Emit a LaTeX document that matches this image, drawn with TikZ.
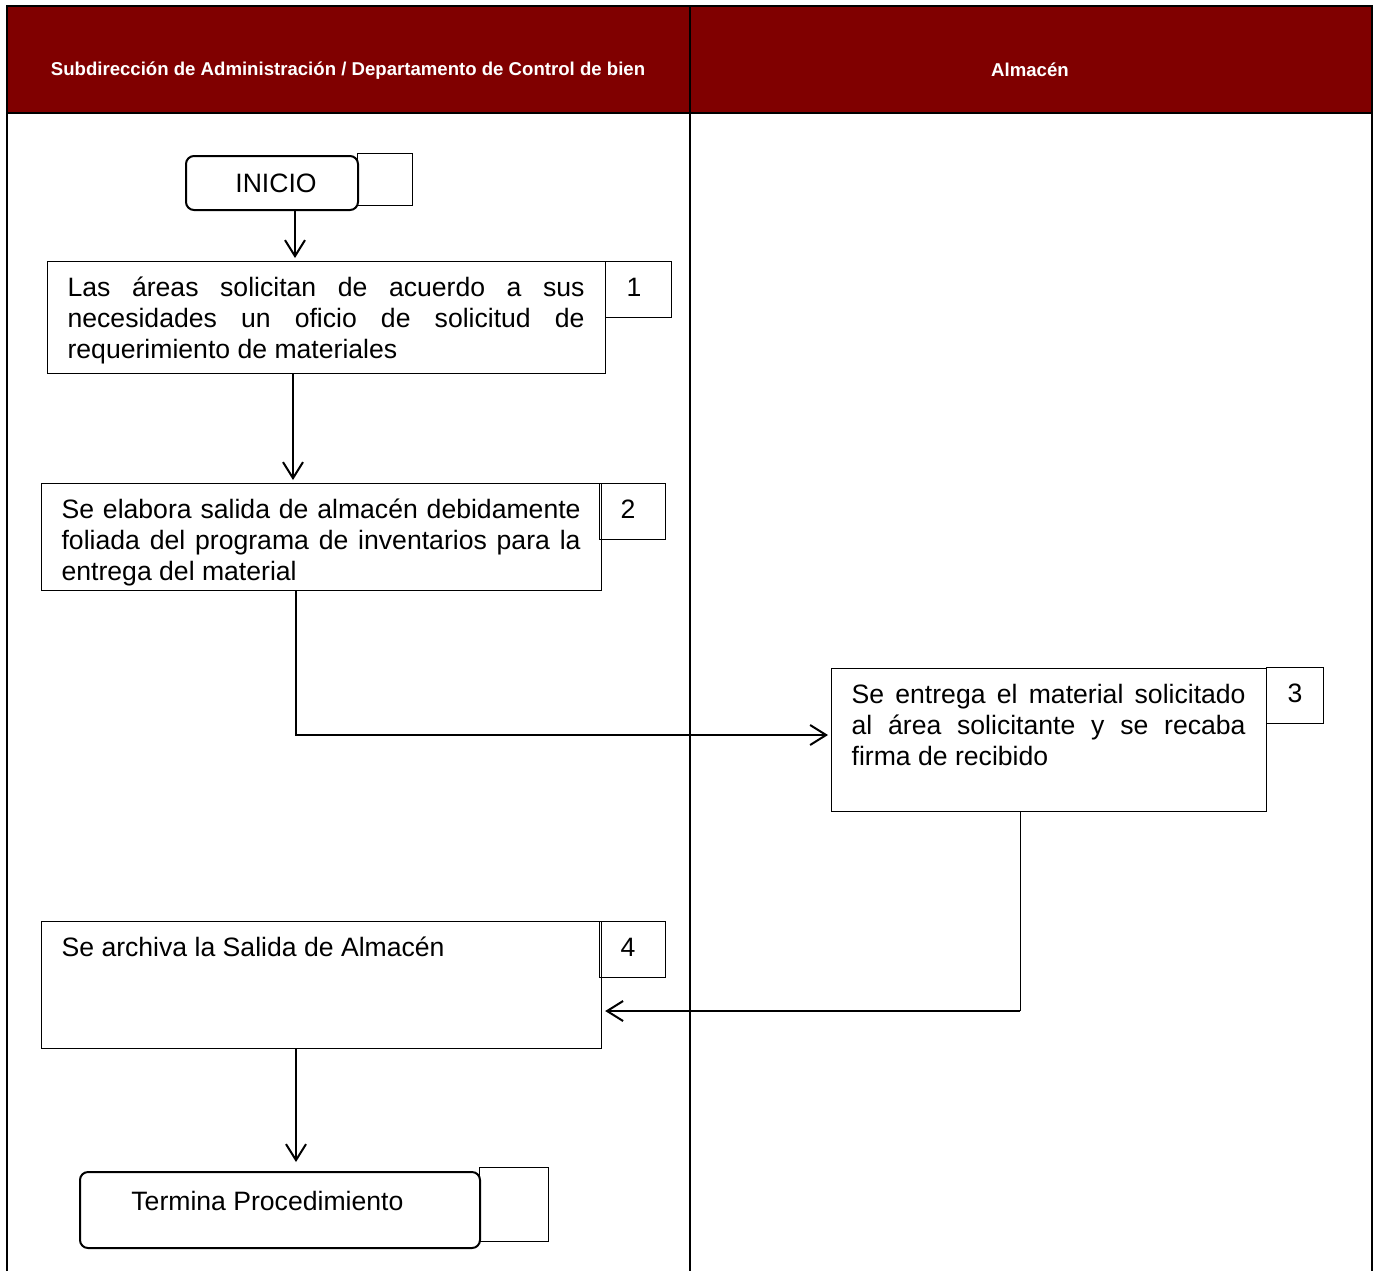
\documentclass[tikz,border=0pt]{standalone}
\usepackage{fontspec}
\setmainfont{Liberation Sans}
\usetikzlibrary{arrows.meta}
\definecolor{hdr}{HTML}{800000}
\newcommand\steptext[3]{\begin{minipage}[t][#2][t]{#1}\fontsize{13.3}{15.5}\selectfont\leftskip=10pt\rightskip=10.5pt\hyphenpenalty=10000\tolerance=9999\noindent\rule{0pt}{17.5pt}#3\par\end{minipage}}
\newcommand\numtext[3]{\begin{minipage}[t][#2][t]{#1}\fontsize{13.3}{15.5}\selectfont\noindent\hspace*{10.5pt}\rule{0pt}{17.5pt}#3\par\end{minipage}}
\begin{document}
\begin{tikzpicture}[x=0.5pt,y=-0.5pt,
  lane/.style={line width=1pt},
  hdrtxt/.style={text=white, font=\bfseries\fontsize{9.3}{11}\selectfont, inner sep=0pt},
  proc/.style={draw, line width=0.6pt, inner sep=0pt, anchor=north west},
  numbox/.style={draw, line width=0.5pt, inner sep=0pt, anchor=north west},
  term/.style={draw, line width=1pt, rounded corners=4pt, inner sep=0pt, anchor=north west, font=\fontsize{13.3}{15.5}\selectfont},
  arr/.style={line width=1pt, -{Straight Barb[length=8pt,width=10pt,line width=1pt]}, shorten >=1.5pt},
]
\useasboundingbox (0,0) rectangle (1375,1271);
% swimlane frame
\fill[hdr] (7,6) rectangle (1372,113);
\draw[lane] (7,1271) -- (7,6) -- (1372,6) -- (1372,1271);
\draw[lane] (7,113) -- (1372,113);
\draw[lane] (690,6) -- (690,1271);
\node[hdrtxt] (h1) at (348,71) {Subdirección de Administración / Departamento de Control de bien};
\node[hdrtxt] (h2) at (1030,70) {Almacén};

% start
\node[term, minimum width=86pt, minimum height=27pt] (ini) at (185,155) {\hspace*{4pt}INICIO};
\node[numbox, minimum width=27.5pt, minimum height=26pt] (n0) at (357,153) {};

% step 1
\node[proc] (b1) at (47,261) {\steptext{279pt}{56pt}{Las áreas solicitan de acuerdo a sus\linebreak necesidades un oficio de solicitud de\linebreak requerimiento de materiales}};
\node[numbox] (n1) at (605,261) {\numtext{33pt}{28pt}{1}};

% step 2
\node[proc] (b2) at (41,483) {\steptext{280pt}{53.5pt}{Se elabora salida de almacén debidamente\linebreak foliada del programa de inventarios para la\linebreak entrega del material}};
\node[numbox] (n2) at (599,483) {\numtext{33pt}{28pt}{2}};

% step 3
\node[proc] (b3) at (831,668) {\steptext{217.5pt}{71.5pt}{Se entrega el material solicitado\linebreak al área solicitante y se recaba\linebreak firma de recibido}};
\node[numbox] (n3) at (1266,667) {\numtext{28.5pt}{28pt}{3}};

% step 4
\node[proc] (b4) at (41,921) {\steptext{280pt}{63.5pt}{Se archiva la Salida de Almacén}};
\node[numbox] (n4) at (599,921) {\numtext{33pt}{28pt}{4}};

% end
\node[term, minimum width=200pt, minimum height=38pt] (fin) at (79,1171) {};
\node[anchor=west, inner sep=0pt, font=\fontsize{13.3}{15.5}\selectfont] (fintxt) at (131,1201) {Termina Procedimiento};
\node[numbox, minimum width=34.5pt, minimum height=37pt] (n5) at (479,1167) {};

% connector guides
\coordinate (s1) at (295,0);
\coordinate (s2) at (293,0);
\coordinate (s3) at (296,0);
\coordinate (s4) at (1020,0);
\coordinate (k1) at (0,735);
\coordinate (k2) at (1020,1011);

\draw[arr] (ini.south -| s1) -- (b1.north -| s1);
\draw[arr] (b1.south -| s2) -- (b2.north -| s2);
\draw[arr] (b2.south -| s3) |- (b3.west |- k1);
\draw[line width=0.5pt] (b3.south -| s4) -- (k2);
\draw[arr] (k2) -- (b4.east |- k2);
\draw[arr, shorten >=4.5pt] (b4.south -| s3) -- (fin.north -| s3);
\end{tikzpicture}
\end{document}
